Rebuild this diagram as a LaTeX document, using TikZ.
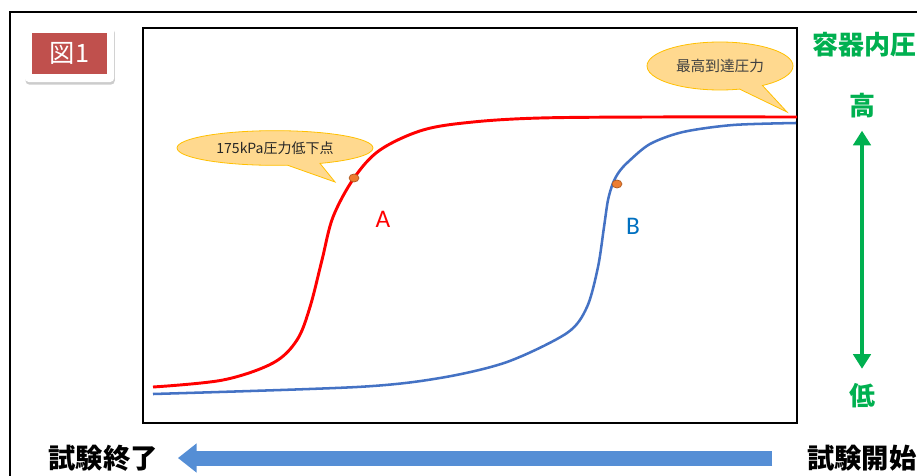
\documentclass[tikz,border=0pt]{standalone}
\usepackage{fontspec}
\setmainfont{Noto Sans CJK JP}
\newfontfamily\latinfont{Carlito}
\usetikzlibrary{arrows.meta,shapes.callouts,shadows}
\definecolor{curvered}{HTML}{FF0000}
\definecolor{curveblue}{HTML}{4472C4}
\definecolor{labelblue}{HTML}{0070C0}
\definecolor{dotorange}{HTML}{ED7D31}
\definecolor{dotedge}{HTML}{AE5A21}
\definecolor{bubblefill}{HTML}{FFD98F}
\definecolor{bubbleline}{HTML}{FFC000}
\definecolor{jpgreen}{HTML}{00B050}
\definecolor{flowblue}{HTML}{558ED5}
\definecolor{tagred}{HTML}{C0504D}
\tikzset{
	bubble/.style={ellipse callout, draw=bubbleline, fill=bubblefill, line width=0.6pt, callout pointer arc=20, inner sep=0pt, text=black!85},
	pdot/.style={fill=dotorange, draw=dotedge, line width=0.5pt},
	greenlbl/.style={text=jpgreen, inner sep=0pt, font=\bfseries\fontsize{19.5}{21}\selectfont},
	steplbl/.style={inner sep=0pt, font=\bfseries\fontsize{20.5}{22}\selectfont},
	curvelbl/.style={font=\latinfont\fontsize{19}{20}\selectfont},
}

\begin{document}
\begin{tikzpicture}[x=0.75pt, y=-0.75pt]
		%%%%% START %%%%%
		\useasboundingbox (0, 0) rectangle (917, 475);
		
		\draw[line width=2pt] (10, 480) -- (10, 12) -- (925, 12);
		\draw[line width=1.5pt] (143, 28) rectangle (797, 423);
		
		\node[fill=white, rounded corners=3pt, minimum width=67pt, minimum height=42pt, drop shadow={opacity=0.4, shadow xshift=0.5pt, shadow yshift=-2pt}] (tagframe) at (69.5, 54) {};
		\node[fill=tagred, text=white, minimum width=56pt, minimum height=31pt, inner sep=0pt, font=\fontsize{19}{21}\selectfont] (tag) at (69.5, 53.5) {図1};
		
		\coordinate (dotA) at (354, 178);
		\coordinate (dotB) at (617, 184);
		\coordinate (tipA) at (335, 182);
		\coordinate (tipP) at (787, 112);
		
		\draw[curvered, line width=2.2pt] plot[smooth, tension=0.55] coordinates {(153, 387) (223, 380) (273, 363) (297, 340) (310, 307) (322, 260) (333, 217) (dotA) (380, 150) (423, 130) (473, 122) (540, 118) (650, 117) (797, 117)};
		\draw[curveblue, line width=1.9pt] plot[smooth, tension=0.5] coordinates {(153, 394) (357, 387) (440, 378) (507, 362) (567, 333) (587, 307) (598, 267) (604, 227) (608, 200) (613, 183) (619, 172) (628, 162) (650, 144) (683, 132) (733, 125) (796, 123)};
		
		\filldraw[pdot] (dotA) ellipse (3.75pt and 3pt);
		\filldraw[pdot] (dotB) ellipse (3.75pt and 3pt);
		
		\node[curvelbl, text=curvered] (labA) at (383, 219) {A};
		\node[curvelbl, text=labelblue] (labB) at (633, 226) {B};
		
		\node[bubble, minimum width=147pt, minimum height=26pt, callout absolute pointer=(tipA), font=\fontsize{10.5}{11}\selectfont] (dropnote) at (275, 148) {175kPa圧力低下点};
		\node[bubble, minimum width=109.5pt, minimum height=36pt, callout absolute pointer=(tipP), text=black!75, font=\fontsize{11}{12}\selectfont] (peaknote) at (720, 66) {最高到達圧力};
		
		\node[greenlbl, anchor=west] (pressure) at (812, 45) {容器内圧};
		\node[greenlbl] (high) at (862, 106) {高};
		\node[greenlbl] (low) at (862, 396) {低};
		\draw[jpgreen, line width=3pt, {Triangle[width=13pt, length=11pt]}-{Triangle[width=13pt, length=11pt]}, shorten <=9pt, shorten >=11pt] (high.south) -- (low.north);
		
		\node[steplbl] (finish) at (103, 458) {試験終了};
		\node[steplbl, anchor=west] (start) at (807, 458) {試験開始};
		\draw[flowblue, line width=11.25pt, -{Triangle[width=21pt, length=14pt]}, shorten <=26pt, shorten >=15pt] (start.west) -- (finish.east);
		
		%%%%% END %%%%%
	\end{tikzpicture}
\end{document}
